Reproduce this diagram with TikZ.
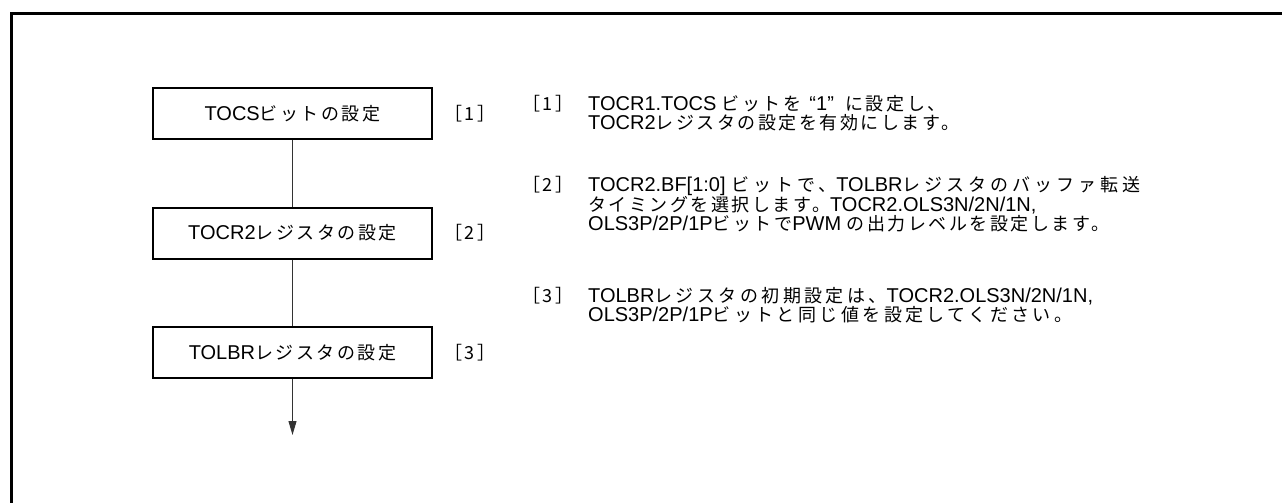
\documentclass[tikz,border=0pt]{standalone}
\usepackage{fontspec}
\setmainfont{Liberation Sans}
\newfontfamily\jpfont{Noto Sans CJK JP}[Scale=0.9,LetterSpace=14]
\newcommand\J[1]{{\jpfont #1}}
\newcommand\Jw[1]{{\jpfont\addfontfeature{LetterSpace=22}#1}}
\newcommand\Jm[1]{{\jpfont\addfontfeature{LetterSpace=19}#1}}
\usetikzlibrary{arrows.meta}
\begin{document}
\begin{tikzpicture}[x=1pt,y=-1pt,
  every node/.style={font=\fontsize{20}{20}\selectfont},
  box/.style={draw,line width=2pt,minimum width=279pt,minimum height=51pt,inner sep=0pt,text height=13pt,text depth=0pt},
  lab/.style={inner sep=0pt,text height=13pt,text depth=0pt},
  txt/.style={anchor=base west,inner sep=0pt,text height=14pt,text depth=4pt},
  conn/.style={draw=black!80,line width=1pt},
  frame/.style={line width=3pt,line join=miter}]
\useasboundingbox (0,0) rectangle (1282,503);
\draw[frame] (1283,13.3) -- (11,13.3) -- (11,504);
% flow boxes
\node[box] (b1) at (292.5,113.5) {TOCS\J{ビットの設定}};
\node[box] (b2) at (292.5,233) {TOCR2\J{レジスタの設定}};
\node[box] (b3) at (292.5,352.5) {TOLBR\J{レジスタの設定}};
\coordinate (end) at (292.5,435);
\draw[conn] (b1) -- (b2);
\draw[conn] (b2) -- (b3);
\draw[conn,-{Triangle[length=14pt,width=8pt]}] (b3) -- (end);
% step labels
\node[lab] (l1) at (470,113.5) {\J{［1］}};
\node[lab] (l2) at (470,233) {\J{［2］}};
\node[lab] (l3) at (470,352.5) {\J{［3］}};
% notes
\node[txt] (n1) at (522,110.7) {\J{［1］}};
\node[txt] (t1a) at (588,110.7) {TOCR1.TOCS \J{ビットを}\kern8pt“1”\kern6pt\ \J{に設定し、}};
\node[txt] (t1b) at (588,129.7) {TOCR2\J{レジスタの設定を有効にします。}};
\node[txt] (n2) at (522,191.7) {\J{［2］}};
\node[txt] (t2a) at (588,191.7) {TOCR2.BF[1:0] \Jw{ビットで、}TOLBR\Jw{レジスタのバッファ転送}};
\node[txt] (t2b) at (588,211) {\J{タイミングを選択します。}TOCR2.OLS3N/2N/1N,};
\node[txt] (t2c) at (588,230.2) {OLS3P/2P/1P\J{ビットで}PWM \J{の出力レベルを設定します。}};
\node[txt] (n3) at (522,302) {\J{［3］}};
\node[txt] (t3a) at (588,302) {TOLBR\Jm{レジスタの初期設定は、}TOCR2.OLS3N/2N/1N,};
\node[txt] (t3b) at (588,321.3) {OLS3P/2P/1P\Jm{ビットと同じ値を設定してください。}};
\end{tikzpicture}
\end{document}
